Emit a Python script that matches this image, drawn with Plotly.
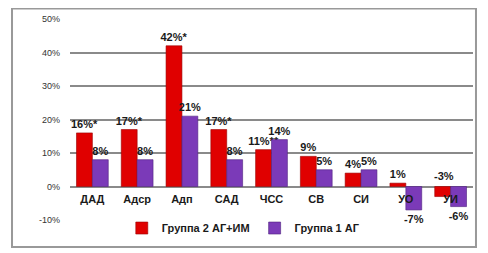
import plotly.graph_objects as go

categories = ["ДАД", "Адср", "Адп", "САД", "ЧСС", "СВ", "СИ", "УО", "УИ"]
group2_name = "Группа 2 АГ+ИМ"
group1_name = "Группа 1 АГ"
group2_values = [16, 17, 42, 17, 11, 9, 4, 1, -3]
group1_values = [8, 8, 21, 8, 14, 5, 5, -7, -6]
group2_marks = ["*", "*", "*", "*", "**", "", "", "", ""]
y_ticks = [-10, 0, 10, 20, 30, 40, 50]
y_tick_labels = [f"{v}%" for v in y_ticks]

red = "#e00000"
purple = "#7b3ab8"

g2_text = [f"{v}%{m}" if v >= 0 else "" for v, m in zip(group2_values, group2_marks)]
g1_text = [f"{v}%" for v in group1_values]

label_font = dict(family="Liberation Sans", size=11, color="#1a1a1a", weight="bold")

fig = go.Figure()
fig.add_trace(go.Bar(
    x=categories, y=group2_values, name=group2_name,
    marker=dict(color=red, line=dict(color="#9a0000", width=0.6)),
    text=g2_text, textposition="outside", textfont=label_font,
    constraintext="none", cliponaxis=False,
))
fig.add_trace(go.Bar(
    x=categories, y=group1_values, name=group1_name,
    marker=dict(color=purple, line=dict(color="#4f2280", width=0.6)),
    text=g1_text, textposition="outside", textfont=label_font,
    constraintext="none", cliponaxis=False,
))

# negative red value label drawn above the zero line as in the reference
for c, v, m in zip(categories, group2_values, group2_marks):
    if v < 0:
        fig.add_annotation(x=c, y=0, text=f"{v}%{m}", showarrow=False,
                           xshift=-7, yshift=3, yanchor="bottom",
                           font=label_font)

# page has an 8px body margin, so the figure is 480x245 placed at (8, 8)
fig.update_layout(
    width=480, height=245,
    margin=dict(l=62, r=15, t=11, b=33, autoexpand=False),
    paper_bgcolor="white", plot_bgcolor="white",
    barmode="group", bargap=0.29, bargroupgap=0,
    font=dict(family="Liberation Sans", size=9, color="#333333"),
    showlegend=True,
    legend=dict(orientation="h", x=0.43, xanchor="center", y=-0.04, yanchor="middle",
                font=dict(family="Liberation Sans", size=11, color="#1a1a1a", weight="bold"),
                itemwidth=30),
    shapes=[dict(type="rect", xref="paper", yref="paper",
                 x0=-0.1439, x1=1.0074, y0=-0.134, y1=1.052,
                 line=dict(color="#999999", width=2), layer="above")],
)
fig.update_xaxes(
    anchor="free", position=1/6, showline=False, ticks="", automargin=False,
    tickfont=dict(family="Liberation Sans", size=11, color="#1a1a1a", weight="bold"),
    showgrid=False, ticklabelstandoff=4,
)
fig.update_yaxes(
    range=[-10, 50], tickvals=y_ticks, ticktext=y_tick_labels, automargin=False,
    showgrid=True, gridcolor="#8a8a8a", gridwidth=1.5,
    zeroline=True, zerolinecolor="#8a8a8a", zerolinewidth=1.5,
    tickfont=dict(family="Liberation Sans", size=9, color="#333333"),
    ticklabelstandoff=9,
)

fig.write_html("out.html")
